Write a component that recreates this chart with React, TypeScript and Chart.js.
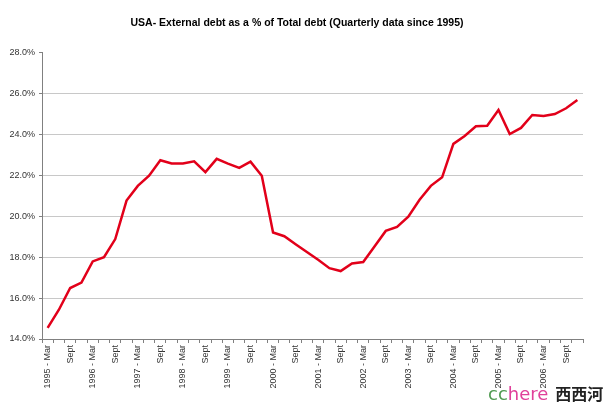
import React, { useEffect, useRef } from "react";
import { Chart, registerables } from "chart.js";

Chart.register(...registerables);

const TITLE = "USA- External debt as a % of Total debt (Quarterly data since 1995)";

const quarters = [
  "1995 - Mar", "1995 - Jun", "1995 - Sept", "1995 - Dec",
  "1996 - Mar", "1996 - Jun", "1996 - Sept", "1996 - Dec",
  "1997 - Mar", "1997 - Jun", "1997 - Sept", "1997 - Dec",
  "1998 - Mar", "1998 - Jun", "1998 - Sept", "1998 - Dec",
  "1999 - Mar", "1999 - Jun", "1999 - Sept", "1999 - Dec",
  "2000 - Mar", "2000 - Jun", "2000 - Sept", "2000 - Dec",
  "2001 - Mar", "2001 - Jun", "2001 - Sept", "2001 - Dec",
  "2002 - Mar", "2002 - Jun", "2002 - Sept", "2002 - Dec",
  "2003 - Mar", "2003 - Jun", "2003 - Sept", "2003 - Dec",
  "2004 - Mar", "2004 - Jun", "2004 - Sept", "2004 - Dec",
  "2005 - Mar", "2005 - Jun", "2005 - Sept", "2005 - Dec",
  "2006 - Mar", "2006 - Jun", "2006 - Sept", "2006 - Dec",
];

const tickLabels = [
  "1995 - Mar", "", "Sept", "",
  "1996 - Mar", "", "Sept", "",
  "1997 - Mar", "", "Sept", "",
  "1998 - Mar", "", "Sept", "",
  "1999 - Mar", "", "Sept", "",
  "2000 - Mar", "", "Sept", "",
  "2001 - Mar", "", "Sept", "",
  "2002 - Mar", "", "Sept", "",
  "2003 - Mar", "", "Sept", "",
  "2004 - Mar", "", "Sept", "",
  "2005 - Mar", "", "Sept", "",
  "2006 - Mar", "", "Sept", "",
];

const externalDebtPct = [
  14.54, 15.43, 16.49, 16.76, 17.79, 18.0, 18.88, 20.76,
  21.48, 21.98, 22.73, 22.57, 22.57, 22.68, 22.15, 22.8,
  22.57, 22.36, 22.66, 21.97, 19.2, 19.02, 18.63, 18.25,
  17.87, 17.46, 17.32, 17.69, 17.76, 18.52, 19.28, 19.48,
  19.98, 20.8, 21.48, 21.9, 23.53, 23.92, 24.39, 24.42,
  25.19, 24.01, 24.31, 24.94, 24.89, 24.99, 25.27, 25.67,
];

const yMin = 14;
const yMax = 28;
const yStep = 2;

const titlePlugin = {
  id: "centeredTitle",
  afterDraw(chart: any) {
    const ctx = chart.ctx;
    ctx.save();
    ctx.font = "bold 10.5px Arial, 'Liberation Sans', sans-serif";
    ctx.fillStyle = "#000";
    ctx.textAlign = "center";
    ctx.textBaseline = "middle";
    ctx.fillText(TITLE, 297, 23);
    ctx.restore();
  },
};

export default function App() {
  const canvasRef = useRef<HTMLCanvasElement | null>(null);

  useEffect(() => {
    const canvas = canvasRef.current;
    if (!canvas) return;
    const chart = new Chart(canvas, {
      type: "line",
      data: {
        labels: quarters,
        datasets: [
          {
            label: "External debt %",
            data: externalDebtPct,
            borderColor: "#e2001a",
            borderWidth: 2.5,
            pointRadius: 0,
            tension: 0,
            fill: false,
          },
        ],
      },
      plugins: [titlePlugin],
      options: {
        responsive: false,
        animation: false,
        layout: { padding: { left: 0, right: 27, top: 52.4, bottom: 0 } },
        plugins: {
          legend: { display: false },
          tooltip: { enabled: false },
          title: { display: false },
        },
        scales: {
          x: {
            offset: true,
            grid: {
              offset: true,
              drawOnChartArea: false,
              drawTicks: true,
              tickLength: 4,
              tickColor: "#808080",
            },
            border: { color: "#808080", width: 1 },
            ticks: {
              autoSkip: false,
              minRotation: 90,
              maxRotation: 90,
              padding: 2,
              color: "#333",
              font: { family: "Arial, 'Liberation Sans', sans-serif", size: 9 },
              callback: (_v: any, i: number) => tickLabels[i],
            },
            afterFit: (scale: any) => {
              scale.height = 67;
            },
          },
          y: {
            min: yMin,
            max: yMax,
            grid: {
              color: (ctx: any) => (ctx.tick && ctx.tick.value === yMax ? "rgba(0,0,0,0)" : "#c8c8c8"),
              tickColor: "#808080",
              tickLength: 3,
              lineWidth: 1,
            },
            border: { color: "#808080", width: 1 },
            ticks: {
              stepSize: yStep,
              padding: 4,
              color: "#333",
              font: { family: "Arial, 'Liberation Sans', sans-serif", size: 9 },
              callback: (v: any) => Number(v).toFixed(1) + "%",
            },
            afterFit: (scale: any) => {
              scale.width = 42;
            },
          },
        },
      },
    });
    return () => chart.destroy();
  }, []);

  return (
    <div style={{ position: "fixed", left: 0, top: 0, width: 610, height: 406, background: "#fff" }}>
      <canvas ref={canvasRef} width={610} height={406} style={{ display: "block" }} />
      <div
        style={{
          position: "absolute",
          left: 488,
          top: 382,
          whiteSpace: "nowrap",
          lineHeight: "22px",
        }}
      >
        <span style={{ fontFamily: "'DejaVu Sans', Verdana, sans-serif", fontSize: 18, color: "#4f9a50" }}>cc</span>
        <span style={{ fontFamily: "'DejaVu Sans', Verdana, sans-serif", fontSize: 18, color: "#e0409a" }}>here</span>
        <span style={{ fontFamily: "'Noto Sans CJK SC', sans-serif", fontSize: 16, fontWeight: 700, color: "#222", marginLeft: 7 }}>西西河</span>
      </div>
    </div>
  );
}
